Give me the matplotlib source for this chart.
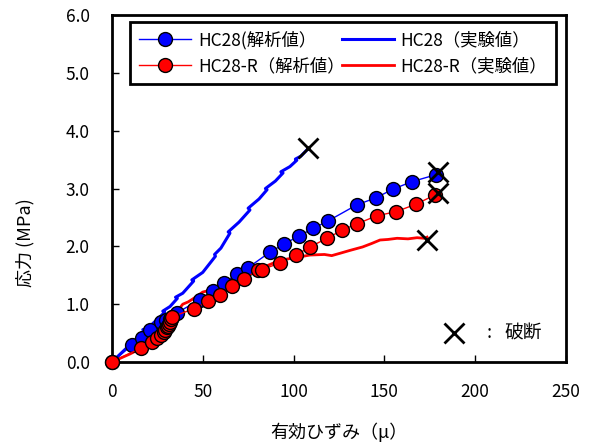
import numpy as np
import matplotlib
matplotlib.use("Agg")
import matplotlib.pyplot as plt
from matplotlib.ticker import FormatStrFormatter

plt.rcParams['font.family'] = ['Noto Sans CJK JP', 'DejaVu Sans']

# HC28 analytical (strain, stress)
hc28_ana_x = [0, 11, 16.5, 21, 27, 30, 32, 33, 35.8, 48.5, 55.5, 61.7, 68.8, 74.9,
              87, 94.7, 103, 110.7, 119, 134.9, 145.4, 154.7, 165.2, 178.4]
hc28_ana_y = [0, 0.29, 0.41, 0.55, 0.69, 0.72, 0.75, 0.78, 0.85, 1.08, 1.22, 1.37, 1.52, 1.63,
              1.90, 2.04, 2.18, 2.31, 2.44, 2.72, 2.84, 2.99, 3.12, 3.24]

# HC28-R analytical
hc28r_ana_x = [0, 16, 22, 25, 27, 28.5, 29.5, 30.5, 31, 31.5, 32, 32.5, 33, 45, 53, 59.5,
               66, 72.7, 80.5, 82.5, 92.5, 101.3, 109, 118.4, 126.7, 134.9, 145.9, 156.4,
               167.4, 177.9]
hc28r_ana_y = [0, 0.24, 0.35, 0.42, 0.47, 0.52, 0.56, 0.60, 0.63, 0.66, 0.70, 0.74, 0.78, 0.92,
               1.05, 1.16, 1.32, 1.44, 1.59, 1.60, 1.71, 1.85, 1.99, 2.14, 2.28, 2.39, 2.53,
               2.60, 2.73, 2.89]

# HC28 experiment
hc28_exp_x = [0, 5, 10, 15, 18, 17, 20, 26.4, 29, 28, 32, 36, 35, 39, 45, 44, 50, 54, 57,
              56.5, 60, 65, 64, 70, 76, 75, 81, 85.4, 84.5, 90, 94.2, 93, 98, 101.8, 101,
              104, 107.4]
hc28_exp_y = [0, 0.15, 0.30, 0.44, 0.54, 0.56, 0.59, 0.78, 0.86, 0.88, 0.96, 1.10, 1.12, 1.19,
              1.40, 1.42, 1.55, 1.71, 1.83, 1.86, 1.97, 2.23, 2.25, 2.42, 2.63, 2.66, 2.82,
              2.98, 3.00, 3.13, 3.27, 3.29, 3.38, 3.49, 3.51, 3.56, 3.67]

# HC28-R experiment
hc28r_exp_x = [0, 5, 10, 15, 20, 25, 30, 33, 35, 37, 39, 42, 46, 50, 55, 63, 70, 77.6, 85,
               92.5, 100, 109, 117, 121, 125.5, 131, 138, 143, 147.6, 152, 157, 163, 168,
               172, 173.5]
hc28r_exp_y = [0, 0.07, 0.14, 0.22, 0.31, 0.42, 0.55, 0.65, 0.80, 0.92, 1.00, 1.04, 1.12, 1.21,
               1.25, 1.35, 1.45, 1.56, 1.66, 1.76, 1.80, 1.85, 1.86, 1.84, 1.88, 1.93, 1.99,
               2.05, 2.11, 2.12, 2.14, 2.13, 2.15, 2.14, 2.16]

# break points
break_x = [108, 179.5, 179.5, 173.5]
break_y = [3.70, 3.29, 2.92, 2.11]

fig = plt.figure(figsize=(5.89, 4.45), dpi=100)
ax = fig.add_axes([0.190, 0.1865, 0.771, 0.7795])

ax.plot(hc28_exp_x, hc28_exp_y, color='#0000ff', lw=2.2, label='HC28（実験値）', zorder=2)
ax.plot(hc28r_exp_x, hc28r_exp_y, color='#ff0000', lw=2.0, label='HC28-R（実験値）', zorder=2)
ax.plot(hc28_ana_x, hc28_ana_y, color='#0000ff', lw=1.0, marker='o', ms=10,
        mfc='#0000ff', mec='black', mew=1.0, label='HC28(解析値）', zorder=3, clip_on=False)
ax.plot(hc28r_ana_x, hc28r_ana_y, color='#ff0000', lw=1.0, marker='o', ms=10,
        mfc='#ff0000', mec='black', mew=1.0, label='HC28-R（解析値）', zorder=4, clip_on=False)
ax.plot(break_x, break_y, ls='none', marker='x', ms=14, mew=2.0, color='black', zorder=5)

ax.set_xlim(0, 250)
ax.set_ylim(0, 6)
ax.set_xticks([0, 50, 100, 150, 200, 250])
ax.set_yticks([0, 1, 2, 3, 4, 5, 6])
ax.yaxis.set_major_formatter(FormatStrFormatter('%.1f'))
ax.tick_params(direction='in', length=5, width=1, labelsize=12.5)
ax.tick_params(axis='x', pad=15)
ax.tick_params(axis='y', pad=16)
for s in ax.spines.values():
    s.set_linewidth(2.0)

ax.set_xlabel('有効ひずみ（μ）', fontsize=13)
ax.xaxis.set_label_coords(0.5, -0.175)
ax.set_ylabel('応力 (MPa)', fontsize=13)
ax.yaxis.set_label_coords(-0.17, 0.343)

h, lab = ax.get_legend_handles_labels()
order = [2, 3, 0, 1]
leg = ax.legend([h[i] for i in order], [lab[i] for i in order], ncol=2,
                loc='upper left', bbox_to_anchor=(0.04, 0.778, 0.938, 0.202),
                mode='expand', borderaxespad=0, fontsize=12.5, handlelength=3.0,
                fancybox=False, framealpha=1, edgecolor='black', labelspacing=0.45,
                columnspacing=0.8, handletextpad=0.4, borderpad=0.5)
leg.get_frame().set_linewidth(2.0)

ax.plot([0.753], [0.0836], transform=ax.transAxes, marker='x', ms=14, mew=2.0,
        color='black', ls='none', clip_on=False)
ax.text(0.83, 0.0836, ':', transform=ax.transAxes, fontsize=13, va='center', ha='center')
ax.text(0.865, 0.0836, '破断', transform=ax.transAxes, fontsize=13.5, va='center', ha='left')

fig.savefig('out.png', dpi=100)
